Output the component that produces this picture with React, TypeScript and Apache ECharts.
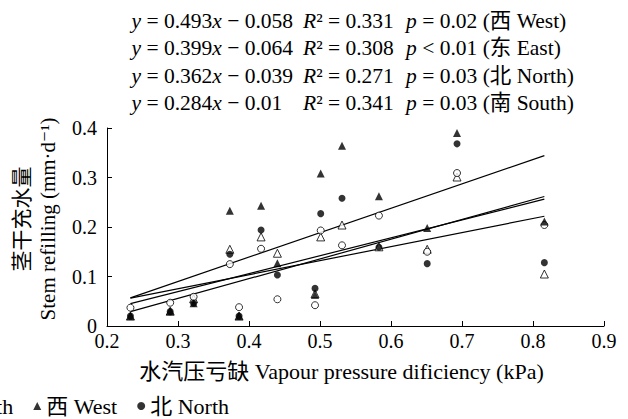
import React, { useEffect, useRef } from "react";
import * as echarts from "echarts";

const FONT = '"Liberation Serif", "Times New Roman", "DejaVu Serif", "Noto Sans CJK SC", serif';

// Vapour pressure deficit (kPa)
const vpd = [0.233, 0.289, 0.322, 0.373, 0.386, 0.417, 0.44, 0.493, 0.501, 0.531, 0.583, 0.651, 0.693, 0.816];
// Stem refilling (mm·d-1)
const west = [0.02, 0.03, 0.046, 0.233, 0.02, 0.243, 0.127, 0.063, 0.308, 0.364, 0.262, 0.198, 0.39, 0.211];
const east = [0.02, 0.03, 0.055, 0.155, 0.02, 0.18, 0.147, 0.065, 0.18, 0.204, 0.16, 0.155, 0.301, 0.105];
const north = [0.02, 0.029, 0.046, 0.145, 0.02, 0.194, 0.103, 0.076, 0.227, 0.258, 0.159, 0.126, 0.368, 0.128];
const south = [0.037, 0.047, 0.059, 0.125, 0.038, 0.156, 0.054, 0.042, 0.193, 0.163, 0.223, 0.15, 0.309, 0.204];

// Regression results, in order West, East, North, South
const fitNames = ["西 West", "东 East", "北 North", "南 South"];
const slopes = [0.493, 0.399, 0.362, 0.284];
const intercepts = [-0.058, -0.064, -0.039, -0.01];
const r2s = ["0.331", "0.308", "0.271", "0.341"];
const pOps = ["=", "<", "=", "="];
const pVals = ["0.02", "0.01", "0.03", "0.03"];

const legendOrder = ["东 East", "南 South", "西 West", "北 North"];

const yTitle = "茎干充水量\nStem refilling (mm·d⁻¹)";
const xTitle = "水汽压亏缺 Vapour pressure dificiency (kPa)";

export default function App() {
  const ref = useRef<HTMLDivElement>(null);
  useEffect(() => {
    if (!ref.current) return;
    const chart = echarts.init(ref.current, null, { renderer: "svg" });
    const pts = (ys: number[]) => vpd.map((x, i) => [x, ys[i]]);
    const xMin = Math.min(...vpd);
    const xMax = Math.max(...vpd);
    const open = { color: "#fff", borderColor: "#000", borderWidth: 1 };
    const filled = { color: "#000" };

    const scatterSeries: any[] = [
      { name: "东 East", type: "scatter", data: pts(east), symbol: "triangle", symbolSize: 8, itemStyle: open },
      { name: "南 South", type: "scatter", data: pts(south), symbol: "circle", symbolSize: 7, itemStyle: open },
      { name: "西 West", type: "scatter", data: pts(west), symbol: "triangle", symbolSize: 8, itemStyle: filled },
      { name: "北 North", type: "scatter", data: pts(north), symbol: "circle", symbolSize: 7, itemStyle: filled },
    ];
    const lineSeries: any[] = slopes.map((a, i) => ({
      name: "fit " + fitNames[i],
      type: "line",
      data: [
        [xMin, a * xMin + intercepts[i]],
        [xMax, a * xMax + intercepts[i]],
      ],
      symbol: "none",
      silent: true,
      lineStyle: { color: "#000", width: 1.2 },
      z: 1,
    }));

    const FS = 21.5;
    const rich = {
      i: { fontStyle: "italic", fontFamily: FONT, fontSize: FS, color: "#000" },
      n: { fontFamily: FONT, fontSize: FS, color: "#000" },
    };
    const eqGraphics: any[] = [];
    slopes.forEach((a, i) => {
      const y = 20.5 + i * 27.5;
      const b = intercepts[i];
      const sign = b < 0 ? "−" : "+";
      const base = { fontFamily: FONT, fontSize: FS, fill: "#000", verticalAlign: "middle", rich };
      eqGraphics.push({
        type: "text",
        x: 131.5,
        y,
        style: { ...base, text: `{i|y}{n| = ${a}}{i|x}{n| ${sign} ${Math.abs(b)}}` },
      });
      eqGraphics.push({
        type: "text",
        x: 303,
        y,
        style: { ...base, text: `{i|R}{n|² = ${r2s[i]}}` },
      });
      eqGraphics.push({
        type: "text",
        x: 406,
        y,
        style: { ...base, text: `{i|p}{n| ${pOps[i]} ${pVals[i]} (${fitNames[i]})}` },
      });
    });

    chart.setOption({
      animation: false,
      textStyle: { fontFamily: FONT },
      grid: { left: 107, top: 128, width: 497, height: 198, outerBoundsMode: "none", containLabel: false },
      legend: {
        data: legendOrder,
        left: -184,
        top: 390,
        itemWidth: 8,
        itemHeight: 8,
        itemGap: 20,
        textStyle: { color: "#000", fontSize: 22, fontFamily: FONT },
      },
      xAxis: {
        type: "value",
        min: 0.2,
        max: 0.9,
        interval: 0.1,
        name: xTitle,
        nameLocation: "middle",
        nameGap: 34,
        nameTextStyle: { color: "#000", fontSize: 22, fontFamily: FONT, padding: [0, 28, 0, 0] },
        axisLine: { lineStyle: { color: "#000", width: 1 } },
        axisTick: { inside: true, length: 5, lineStyle: { color: "#000" } },
        axisLabel: {
          color: "#000",
          fontSize: 20,
          fontFamily: FONT,
          margin: 5,
          formatter: (v: number) => v.toFixed(1),
        },
        splitLine: { show: false },
      },
      yAxis: {
        type: "value",
        min: 0,
        max: 0.4,
        interval: 0.1,
        name: yTitle,
        nameLocation: "middle",
        nameRotate: 90,
        nameGap: 39,
        nameTextStyle: {
          color: "#000",
          fontSize: 21,
          fontFamily: FONT,
          lineHeight: 26,
          padding: [0, 0, 0, 16],
        },
        axisLine: { show: true, lineStyle: { color: "#000", width: 1 } },
        axisTick: { show: true, inside: true, length: 5, lineStyle: { color: "#000" } },
        axisLabel: {
          color: "#000",
          fontSize: 20,
          fontFamily: FONT,
          margin: 10,
          formatter: (v: number) => (v === 0 ? "0" : v.toFixed(1)),
        },
        splitLine: { show: false },
      },
      graphic: eqGraphics,
      series: [...lineSeries, ...scatterSeries],
    });
    return () => chart.dispose();
  }, []);
  return (
    <div
      ref={ref}
      style={{ position: "absolute", left: 0, top: 0, width: 628, height: 419, background: "#fff" }}
    />
  );
}
